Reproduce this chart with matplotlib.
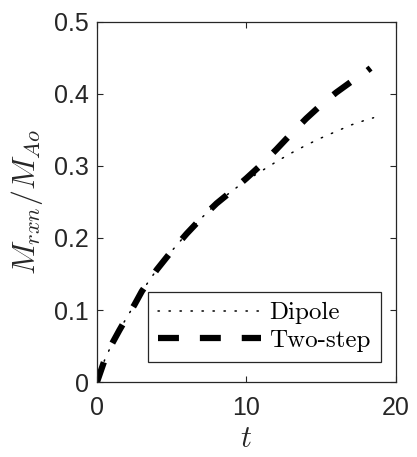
import matplotlib
matplotlib.use("Agg")
import matplotlib.pyplot as plt

plt.rcParams['mathtext.fontset'] = 'cm'
plt.rcParams['font.family'] = ['Liberation Sans', 'DejaVu Sans']

# Temps adimensionnel et fraction massique réagie
t_dipole = [0, 0.5, 1, 1.5, 2, 2.5, 3, 4, 5, 6, 7, 8, 9, 10, 11, 12, 13, 14, 15, 16, 17, 18, 18.5]
m_dipole = [0, 0.030, 0.053, 0.072, 0.090, 0.107, 0.126, 0.156, 0.182, 0.206, 0.228, 0.248, 0.265,
            0.280, 0.293, 0.306, 0.318, 0.329, 0.339, 0.348, 0.357, 0.364, 0.367]

t_two = [0, 0.5, 1, 1.5, 2, 2.5, 3, 4, 5, 6, 7, 8, 9, 10, 11, 12, 13, 14, 15, 16, 17, 18, 18.3]
m_two = [0, 0.030, 0.053, 0.072, 0.090, 0.107, 0.126, 0.156, 0.182, 0.206, 0.228, 0.248, 0.265,
         0.283, 0.302, 0.323, 0.345, 0.366, 0.385, 0.402, 0.417, 0.431, 0.436]

x_ticks = [0, 10, 20]
y_ticks = [0, 0.1, 0.2, 0.3, 0.4, 0.5]
y_ticklabels = ['0', '0.1', '0.2', '0.3', '0.4', '0.5']

fig = plt.figure(figsize=(4.17, 4.57), dpi=100)
ax = fig.add_axes([0.2326, 0.1641, 0.717, 0.7878])

gris = '#262626'
ax.plot(t_dipole, m_dipole, color='k', linestyle=(0, (0.9, 6.3)), linewidth=1.1,
        dash_capstyle='round', label=r'Dipole')
ax.plot(t_two, m_two, color='k', linestyle=(0, (3.35, 3.35)), linewidth=4.5,
        dash_capstyle='butt', label=r'Two-step')

ax.set_xlim(0, 20)
ax.set_ylim(0, 0.5)
ax.set_xticks(x_ticks)
ax.set_xticklabels([str(v) for v in x_ticks])
ax.set_yticks(y_ticks)
ax.set_yticklabels(y_ticklabels)

ax.tick_params(direction='in', length=4, width=0.8, top=True, right=True,
               labelsize=18, colors=gris, pad=6)
ax.tick_params(axis='x', pad=10)
for s in ax.spines.values():
    s.set_color(gris)
    s.set_linewidth(0.9)

ax.set_xlabel(r'$t$', fontsize=22, color=gris, labelpad=3)
ax.set_ylabel(r'$M_{rxn}/M_{Ao}$', fontsize=23, color=gris, labelpad=6)

leg = ax.legend(loc='lower left', bbox_to_anchor=(0.171, 0.056),
                prop={'family': 'cmr10', 'size': 18}, handlelength=4.1,
                fancybox=False, framealpha=1, edgecolor=gris, borderpad=0.4,
                labelspacing=0.2, handletextpad=0.35, borderaxespad=0)
leg.get_frame().set_linewidth(0.9)

fig.savefig('out.png', dpi=100)
